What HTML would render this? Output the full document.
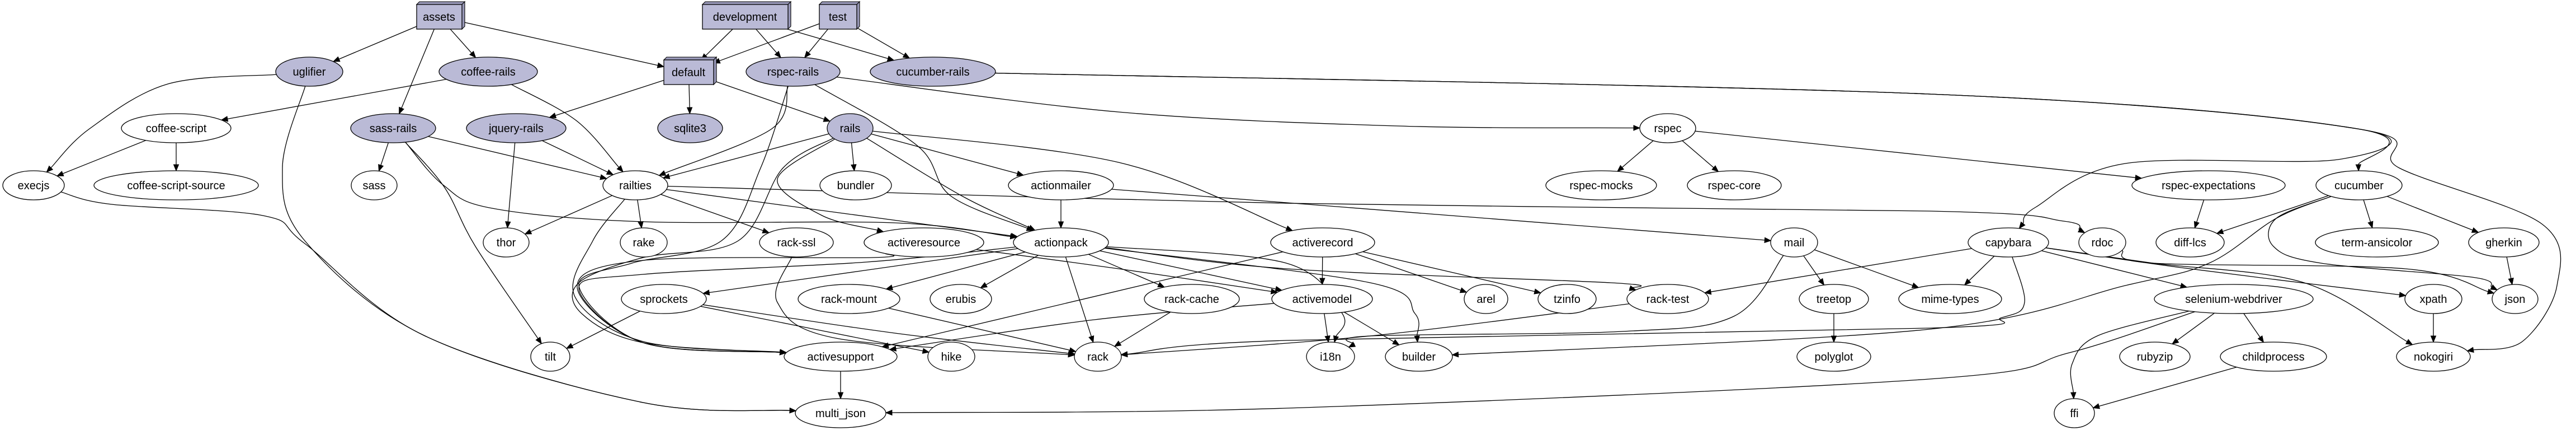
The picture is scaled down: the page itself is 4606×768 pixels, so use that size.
<!DOCTYPE html>
<html><head><meta charset="utf-8"><style>
html,body{margin:0;padding:0;background:#fff;}
svg{display:block;}
text{font-family:"Liberation Sans",sans-serif;font-size:20px;fill:#000;text-anchor:middle;}
ellipse{stroke:#000;stroke-width:1.3;fill:#fff;}
ellipse.f{fill:#babad6;}
.box{fill:#babad6;stroke:#000;stroke-width:1.3;}
.bs{fill:#9898b8;stroke:#000;stroke-width:1.1;}
#edges path{fill:none;stroke:#000;stroke-width:1.3;}
#edges polygon{fill:#000;stroke:#000;stroke-width:1;}
</style></head><body>
<svg id="g" width="4606" height="768" viewBox="0 0 4606 768" xmlns="http://www.w3.org/2000/svg">
<g id="edges"></g>
<g id="nodes">
<polygon class="bs" points="745,8 750,3 831,3 826,8"/><polygon class="bs" points="826,8 831,3 831,47 826,52"/>
<rect id="assets" class="box" x="745" y="8" width="81" height="44"/><text x="785" y="37">assets</text>
<polygon class="bs" points="1256,8 1261,3 1414,3 1409,8"/><polygon class="bs" points="1409,8 1414,3 1414,47 1409,52"/>
<rect id="development" class="box" x="1256" y="8" width="153" height="44"/><text x="1332" y="37">development</text>
<polygon class="bs" points="1465,8 1470,3 1537,3 1532,8"/><polygon class="bs" points="1532,8 1537,3 1537,47 1532,52"/>
<rect id="test" class="box" x="1465" y="8" width="67" height="44"/><text x="1498" y="37">test</text>
<polygon class="bs" points="1187,107 1192,102 1281,102 1276,107"/><polygon class="bs" points="1276,107 1281,102 1281,146 1276,151"/>
<rect id="default" class="box" x="1187" y="107" width="89" height="44"/><text x="1231" y="136">default</text>

<ellipse id="uglifier" class="f" cx="553" cy="128" rx="60" ry="26"/><text x="553" y="135">uglifier</text>
<ellipse id="coffee-rails" class="f" cx="873" cy="128" rx="88" ry="26"/><text x="873" y="135">coffee-rails</text>
<ellipse id="rspec-rails" class="f" cx="1418" cy="128" rx="84" ry="26"/><text x="1418" y="135">rspec-rails</text>
<ellipse id="cucumber-rails" class="f" cx="1668" cy="128" rx="112" ry="26"/><text x="1668" y="135">cucumber-rails</text>

<ellipse id="coffee-script" cx="315" cy="229" rx="98" ry="26"/><text x="315" y="236">coffee-script</text>
<ellipse id="sass-rails" class="f" cx="703" cy="229" rx="76" ry="26"/><text x="703" y="236">sass-rails</text>
<ellipse id="jquery-rails" class="f" cx="923" cy="229" rx="89" ry="26"/><text x="923" y="236">jquery-rails</text>
<ellipse id="sqlite3" class="f" cx="1234" cy="229" rx="58" ry="26"/><text x="1234" y="236">sqlite3</text>
<ellipse id="rails" class="f" cx="1520" cy="229" rx="41" ry="26"/><text x="1520" y="236">rails</text>
<ellipse id="rspec" cx="2982" cy="229" rx="50" ry="26"/><text x="2982" y="236">rspec</text>

<ellipse id="execjs" cx="60" cy="331" rx="55" ry="26"/><text x="60" y="338">execjs</text>
<ellipse id="coffee-script-source" cx="315" cy="331" rx="147" ry="26"/><text x="315" y="338">coffee-script-source</text>
<ellipse id="sass" cx="669" cy="331" rx="41" ry="26"/><text x="669" y="338">sass</text>
<ellipse id="railties" cx="1136" cy="331" rx="58" ry="26"/><text x="1136" y="338">railties</text>
<ellipse id="bundler" cx="1530" cy="331" rx="64" ry="26"/><text x="1530" y="338">bundler</text>
<ellipse id="actionmailer" cx="1897" cy="331" rx="94" ry="26"/><text x="1897" y="338">actionmailer</text>
<ellipse id="rspec-mocks" cx="2863" cy="331" rx="99" ry="26"/><text x="2863" y="338">rspec-mocks</text>
<ellipse id="rspec-core" cx="3101" cy="331" rx="84" ry="26"/><text x="3101" y="338">rspec-core</text>
<ellipse id="rspec-expectations" cx="3949" cy="331" rx="137" ry="26"/><text x="3949" y="338">rspec-expectations</text>
<ellipse id="cucumber" cx="4218" cy="331" rx="77" ry="26"/><text x="4218" y="338">cucumber</text>

<ellipse id="thor" cx="905" cy="433" rx="41" ry="26"/><text x="905" y="440">thor</text>
<ellipse id="rake" cx="1151" cy="433" rx="42" ry="26"/><text x="1151" y="440">rake</text>
<ellipse id="rack-ssl" cx="1424" cy="433" rx="66" ry="26"/><text x="1424" y="440">rack-ssl</text>
<ellipse id="activeresource" cx="1652" cy="433" rx="107" ry="26"/><text x="1652" y="440">activeresource</text>
<ellipse id="actionpack" cx="1897" cy="433" rx="85" ry="26"/><text x="1897" y="440">actionpack</text>
<ellipse id="activerecord" cx="2365" cy="433" rx="93" ry="26"/><text x="2365" y="440">activerecord</text>
<ellipse id="mail" cx="3208" cy="433" rx="42" ry="26"/><text x="3208" y="440">mail</text>
<ellipse id="capybara" cx="3591" cy="433" rx="72" ry="26"/><text x="3591" y="440">capybara</text>
<ellipse id="rdoc" cx="3759" cy="433" rx="42" ry="26"/><text x="3759" y="440">rdoc</text>
<ellipse id="diff-lcs" cx="3916" cy="433" rx="61" ry="26"/><text x="3916" y="440">diff-lcs</text>
<ellipse id="term-ansicolor" cx="4250" cy="433" rx="110" ry="26"/><text x="4250" y="440">term-ansicolor</text>
<ellipse id="gherkin" cx="4477" cy="433" rx="63" ry="26"/><text x="4477" y="440">gherkin</text>

<ellipse id="sprockets" cx="1187" cy="534" rx="76" ry="26"/><text x="1187" y="541">sprockets</text>
<ellipse id="rack-mount" cx="1518" cy="534" rx="91" ry="26"/><text x="1518" y="541">rack-mount</text>
<ellipse id="erubis" cx="1718" cy="534" rx="55" ry="26"/><text x="1718" y="541">erubis</text>
<ellipse id="rack-cache" cx="2131" cy="534" rx="85" ry="26"/><text x="2131" y="541">rack-cache</text>
<ellipse id="activemodel" cx="2364" cy="534" rx="90" ry="26"/><text x="2364" y="541">activemodel</text>
<ellipse id="arel" cx="2657" cy="534" rx="39" ry="26"/><text x="2657" y="541">arel</text>
<ellipse id="tzinfo" cx="2802" cy="534" rx="52" ry="26"/><text x="2802" y="541">tzinfo</text>
<ellipse id="rack-test" cx="2982" cy="534" rx="73" ry="26"/><text x="2982" y="541">rack-test</text>
<ellipse id="treetop" cx="3279" cy="534" rx="62" ry="26"/><text x="3279" y="541">treetop</text>
<ellipse id="mime-types" cx="3487" cy="534" rx="92" ry="26"/><text x="3487" y="541">mime-types</text>
<ellipse id="selenium-webdriver" cx="3994" cy="534" rx="142" ry="26"/><text x="3994" y="541">selenium-webdriver</text>
<ellipse id="xpath" cx="4351" cy="534" rx="51" ry="26"/><text x="4351" y="541">xpath</text>
<ellipse id="json" cx="4497" cy="534" rx="41" ry="26"/><text x="4497" y="541">json</text>

<ellipse id="tilt" cx="984" cy="637" rx="35" ry="26"/><text x="984" y="644">tilt</text>
<ellipse id="activesupport" cx="1503" cy="637" rx="101" ry="26"/><text x="1503" y="644">activesupport</text>
<ellipse id="hike" cx="1701" cy="637" rx="42" ry="26"/><text x="1701" y="644">hike</text>
<ellipse id="rack" cx="1963" cy="637" rx="42" ry="26"/><text x="1963" y="644">rack</text>
<ellipse id="i18n" cx="2379" cy="637" rx="43" ry="26"/><text x="2379" y="644">i18n</text>
<ellipse id="builder" cx="2537" cy="637" rx="60" ry="26"/><text x="2537" y="644">builder</text>
<ellipse id="polyglot" cx="3279" cy="637" rx="66" ry="26"/><text x="3279" y="644">polyglot</text>
<ellipse id="rubyzip" cx="3853" cy="637" rx="63" ry="26"/><text x="3853" y="644">rubyzip</text>
<ellipse id="childprocess" cx="4065" cy="637" rx="95" ry="26"/><text x="4065" y="644">childprocess</text>
<ellipse id="nokogiri" cx="4351" cy="637" rx="66" ry="26"/><text x="4351" y="644">nokogiri</text>

<ellipse id="multi_json" cx="1503" cy="738" rx="81" ry="26"/><text x="1503" y="745">multi_json</text>
<ellipse id="ffi" cx="3709" cy="738" rx="36" ry="26"/><text x="3709" y="745">ffi</text>
</g>
</svg>
<script>
(function(){
var NS="http://www.w3.org/2000/svg";
function geo(id){var e=document.getElementById(id);
 if(e.tagName==='rect'){var x=+e.getAttribute('x'),y=+e.getAttribute('y'),w=+e.getAttribute('width'),h=+e.getAttribute('height');return {b:1,cx:x+w/2,cy:y+h/2,rx:w/2,ry:h/2};}
 return {cx:+e.getAttribute('cx'),cy:+e.getAttribute('cy'),rx:+e.getAttribute('rx'),ry:+e.getAttribute('ry')};}
function clip(n,px,py){var dx=px-n.cx,dy=py-n.cy;if(!dx&&!dy)return [n.cx,n.cy];var t;
 if(n.b){t=Math.min(dx?n.rx/Math.abs(dx):1e9,dy?n.ry/Math.abs(dy):1e9);}else{t=1/Math.sqrt(dx*dx/(n.rx*n.rx)+dy*dy/(n.ry*n.ry));}
 return [n.cx+dx*t,n.cy+dy*t];}
var E=[
['assets','uglifier'],['assets','coffee-rails'],['assets','sass-rails'],['assets','default'],
['development','default'],['development','rspec-rails'],['development','cucumber-rails'],
['test','default'],['test','rspec-rails'],['test','cucumber-rails'],
['default','jquery-rails'],['default','sqlite3'],['default','rails'],
['uglifier','execjs',[[300,150],[160,230]]],
['uglifier','multi_json',[[505,300],[545,430],[760,600],[1150,719]]],
['execjs','multi_json',[[200,365],[470,385],[545,435],[760,600],[1150,719]]],
['coffee-rails','coffee-script'],['coffee-rails','railties',[[1030,215]]],
['coffee-script','execjs'],['coffee-script','coffee-script-source'],
['sass-rails','sass'],['sass-rails','railties'],['sass-rails','tilt',[[795,335],[850,440]]],
['sass-rails','actionpack',[[792,330],[880,372],[1150,396],[1600,398]]],
['jquery-rails','thor'],['jquery-rails','railties'],
['railties','thor'],['railties','rake'],['railties','rack-ssl'],['railties','actionpack',[[1500,380]]],
['railties','rdoc',[[2300,363],[3450,377],[3690,395]]],
['railties','activesupport',[[1060,430],[1028,530],[1150,610]]],
['rails','railties'],['rspec-rails','railties',[[1380,230]]],
['rails','bundler'],['rails','actionmailer'],['rails','activerecord',[[2000,290]]],
['rails','actionpack',[[1720,350]]],['rails','activeresource',[[1390,320],[1470,385]]],
['rails','activesupport',[[1400,300],[1320,430],[1150,460],[1035,505],[1040,560],[1150,612]]],
['rspec-rails','activesupport',[[1360,300],[1290,430],[1130,470],[1035,510],[1150,612]]],
['rspec-rails','actionpack',[[1640,260],[1700,350]]],
['rspec-rails','rspec',[[2000,200],[2500,225]]],
['cucumber-rails','capybara',[[3450,168],[4215,230],[4180,285],[3800,292],[3640,370]]],
['cucumber-rails','cucumber',[[3450,168],[4215,230]]],
['cucumber-rails','nokogiri',[[3450,168],[4215,230],[4290,300],[4545,400],[4572,510],[4510,610]]],
['actionmailer','actionpack'],['actionmailer','mail',[[2300,362]]],
['actionpack','sprockets'],['actionpack','rack-mount'],['actionpack','erubis'],['actionpack','rack-cache'],
['actionpack','rack'],['actionpack','activemodel'],
['actionpack','rack-test',[[2300,480],[2880,505]]],
['actionpack','builder',[[2450,505],[2530,560]]],
['actionpack','i18n',[[2300,470],[2400,560]]],
['actionpack','activesupport',[[1550,468],[1150,490],[1035,515],[1150,612]]],
['activeresource','activemodel',[[2000,480]]],
['activeresource','activesupport',[[1560,460],[1150,465],[1032,512],[1150,612]]],
['activerecord','activemodel'],['activerecord','arel'],['activerecord','tzinfo'],
['activerecord','activesupport'],
['activemodel','i18n'],['activemodel','builder'],
['activemodel','activesupport',[[1957,571]]],
['sprockets','tilt'],['sprockets','hike'],['sprockets','rack',[[1600,595]]],
['rack-mount','rack'],['rack-cache','rack'],['rack-test','rack',[[2450,600]]],
['rack-ssl','rack',[[1390,540],[1500,605]]],
['activesupport','multi_json'],
['selenium-webdriver','multi_json',[[3700,630],[3450,677],[2300,729]]],
['selenium-webdriver','ffi',[[3750,600],[3705,650]]],
['rspec','rspec-mocks'],['rspec','rspec-core'],['rspec','rspec-expectations'],
['rspec-expectations','diff-lcs'],
['mail','treetop'],['mail','mime-types'],['mail','i18n',[[3100,565],[2900,592],[2450,600]]],
['treetop','polyglot'],
['cucumber','diff-lcs'],['cucumber','term-ansicolor'],['cucumber','gherkin'],
['cucumber','json',[[4070,390],[4065,440],[4150,470],[4420,495]]],
['cucumber','builder',[[4070,390],[3950,470],[3800,510],[3450,588]]],
['capybara','mime-types'],['capybara','rack-test'],
['capybara','rack',[[3620,540],[3580,567],[3450,586],[2300,608]]],
['capybara','selenium-webdriver'],['capybara','xpath',[[3900,478]]],
['capybara','nokogiri',[[3850,470],[4120,505]]],
['rdoc','json',[[3850,470],[4300,480]]],
['gherkin','json'],['selenium-webdriver','rubyzip'],['selenium-webdriver','childprocess'],
['childprocess','ffi'],['xpath','nokogiri']
];
var G=document.getElementById('edges');
E.forEach(function(e){
 var a=geo(e[0]),b=geo(e[1]),w=e[2]||[];
 var f=w.length?w[0]:[b.cx,b.cy], l=w.length?w[w.length-1]:[a.cx,a.cy];
 var s=clip(a,f[0],f[1]), t=clip(b,l[0],l[1]);
 var dx=t[0]-l[0],dy=t[1]-l[1];
 if(!w.length){dx=t[0]-s[0];dy=t[1]-s[1];}
 var L=Math.sqrt(dx*dx+dy*dy)||1,ux=dx/L,uy=dy/L,AL=11,AW=4.5;
 var base=[t[0]-ux*AL,t[1]-uy*AL];
 var p=[s].concat(w).concat([base]);
 var d='M'+p[0][0].toFixed(1)+','+p[0][1].toFixed(1);
 for(var i=0;i<p.length-1;i++){
  var p0=p[i-1]||p[i],p1=p[i],p2=p[i+1],p3=p[i+2]||p2;
  var c1=[p1[0]+(p2[0]-p0[0])/6,p1[1]+(p2[1]-p0[1])/6],c2=[p2[0]-(p3[0]-p1[0])/6,p2[1]-(p3[1]-p1[1])/6];
  d+=' C'+c1[0].toFixed(1)+','+c1[1].toFixed(1)+' '+c2[0].toFixed(1)+','+c2[1].toFixed(1)+' '+p2[0].toFixed(1)+','+p2[1].toFixed(1);
 }
 var pa=document.createElementNS(NS,'path');pa.setAttribute('d',d);G.appendChild(pa);
 var pg=document.createElementNS(NS,'polygon');
 pg.setAttribute('points',t[0]+','+t[1]+' '+(base[0]-uy*AW)+','+(base[1]+ux*AW)+' '+(base[0]+uy*AW)+','+(base[1]-ux*AW));
 G.appendChild(pg);
});
})();
</script>
</body></html>
